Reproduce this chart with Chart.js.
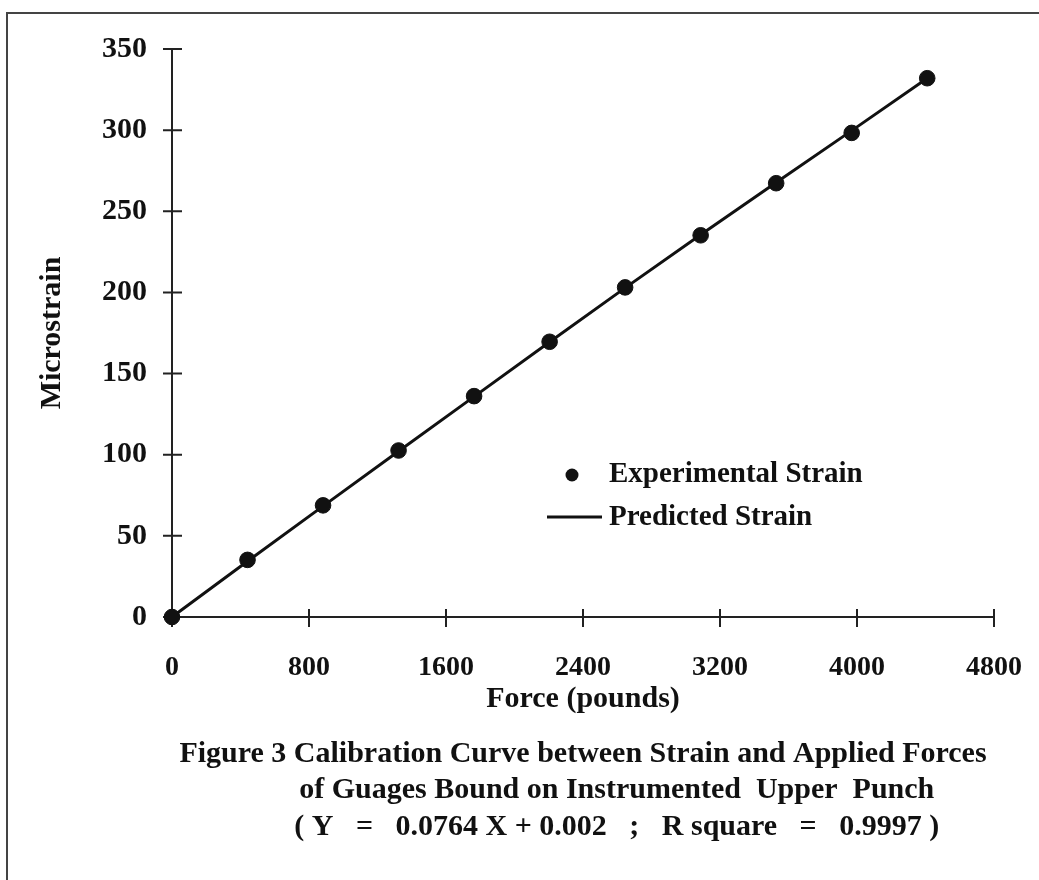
<!DOCTYPE html>
<html>
<head>
<meta charset="utf-8">
<script src="https://cdn.jsdelivr.net/npm/chart.js@4"></script>
<style>
  body { margin: 0; background: #fff; overflow: hidden; }
  #wrap { position: relative; width: 1039px; height: 880px; }
  #frame { position: absolute; left: 6px; top: 12px; width: 1100px; height: 1000px; border: 2px solid #444; }
  canvas { position: absolute; left: 0; top: 0; }
</style>
</head>
<body>
<div id="wrap">
  <div id="frame"></div>
  <canvas id="calib" width="1039" height="880"></canvas>
</div>
<script>
// force applied (pounds) and strain
const forceLb = [0, 441, 882, 1323, 1764, 2205, 2646, 3087, 3528, 3969, 4410];
const expStrain = [0, 35.2, 68.8, 102.6, 136.1, 169.6, 203.1, 235.2, 267.3, 298.3, 332];
const predStrain = [0, 34.4, 68.3, 102.1, 135.8, 169.4, 202.8, 235.5, 267.8, 299.7, 332];
const xTicks = [0, 800, 1600, 2400, 3200, 4000, 4800];
const yTicks = [0, 50, 100, 150, 200, 250, 300, 350];
const caption = [
  'Figure 3 Calibration Curve between Strain and Applied Forces',
  '\u00a0\u00a0\u00a0\u00a0\u00a0\u00a0\u00a0\u00a0\u00a0of Guages Bound on Instrumented  Upper  Punch',
  '\u00a0\u00a0\u00a0\u00a0\u00a0\u00a0\u00a0\u00a0\u00a0( Y   =   0.0764 X + 0.002   ;   R square   =   0.9997 )'
];

const ink = '#111';
const serif = '"Liberation Serif", "Times New Roman", serif';

// tick marks that cross the axis line
const crossTicks = {
  id: 'crossTicks',
  beforeDatasetsDraw(chart) {
    const {ctx, scales: {x, y}} = chart;
    ctx.save();
    ctx.strokeStyle = '#222';
    ctx.lineWidth = 2;
    ctx.beginPath();
    x.ticks.forEach(t => {
      const px = x.getPixelForValue(t.value);
      ctx.moveTo(px, y.bottom - 8);
      ctx.lineTo(px, y.bottom + 10);
    });
    y.ticks.forEach(t => {
      const py = y.getPixelForValue(t.value);
      ctx.moveTo(x.left - 9, py);
      ctx.lineTo(x.left + 10, py);
    });
    ctx.stroke();
    ctx.restore();
  }
};

// legend sitting inside the plot, lower right
const insideLegend = {
  id: 'insideLegend',
  afterDraw(chart) {
    const {ctx, chartArea} = chart;
    const left = chartArea.left + 437;
    let top = chartArea.top + 426;
    ctx.save();
    ctx.font = 'bold 29px ' + serif;
    ctx.textBaseline = 'middle';
    ctx.fillStyle = ink;
    ctx.strokeStyle = ink;
    chart.data.datasets.forEach(ds => {
      if (ds.showLine) {
        ctx.lineWidth = 3;
        ctx.beginPath();
        ctx.moveTo(left - 62, top - 1);
        ctx.lineTo(left - 7, top - 1);
        ctx.stroke();
      } else {
        ctx.beginPath();
        ctx.arc(left - 37, top, 6.5, 0, Math.PI * 2);
        ctx.fill();
      }
      ctx.fillText(ds.label, left, top);
      top += 43;
    });
    ctx.restore();
  }
};

const ctx = document.getElementById('calib');
const calib = new Chart(ctx, {
  type: 'scatter',
  data: {
    datasets: [{
      label: 'Experimental Strain',
      data: forceLb.map((f, i) => ({x: f, y: expStrain[i]})),
      showLine: false,
      pointRadius: 7.8,
      pointHoverRadius: 7.8,
      backgroundColor: ink,
      borderColor: ink,
      clip: false
    },
    {
      label: 'Predicted Strain',
      data: forceLb.map((f, i) => ({x: f, y: predStrain[i]})),
      showLine: true,
      pointRadius: 0,
      borderWidth: 3,
      borderColor: ink,
      backgroundColor: ink,
      clip: false
    }]
  },
  options: {
    responsive: false,
    animation: false,
    layout: {
      padding: {left: 0, right: 45, top: 49, bottom: 34.5}
    },
    scales: {
      x: {
        min: 0,
        max: 4800,
        afterBuildTicks: s => { s.ticks = xTicks.map(v => ({value: v})); },
        afterFit: s => { s.height = 100; s.paddingLeft = 0; s.paddingRight = 0; },
        grid: {display: false, drawTicks: false},
        border: {display: true, color: '#222', width: 2},
        ticks: {
          color: ink,
          padding: 34,
          maxRotation: 0,
          font: {family: serif, size: 28, weight: 'bold'},
          callback: v => String(v)
        },
        title: {
          display: true,
          text: 'Force (pounds)',
          color: ink,
          padding: {top: 0, bottom: 0},
          font: {family: serif, size: 30, weight: 'bold'}
        }
      },
      y: {
        min: 0,
        max: 350,
        afterBuildTicks: s => { s.ticks = yTicks.map(v => ({value: v})); },
        afterFit: s => { s.width = 172; s.paddingTop = 0; s.paddingBottom = 0; },
        grid: {display: false, drawTicks: false},
        border: {display: true, color: '#222', width: 2},
        ticks: {
          color: ink,
          padding: 25,
          font: {family: serif, size: 30, weight: 'bold'},
          callback: v => String(v)
        },
        title: {
          display: true,
          text: 'Microstrain',
          color: ink,
          padding: {top: 34, bottom: 0},
          font: {family: serif, size: 30, weight: 'bold'}
        }
      }
    },
    plugins: {
      legend: {display: false},
      tooltip: {enabled: false},
      title: {
        display: true,
        position: 'bottom',
        fullSize: false,
        text: caption,
        color: ink,
        padding: {top: 18.7, bottom: 0},
        font: {family: serif, size: 30, weight: 'bold', lineHeight: 1.22}
      }
    }
  },
  plugins: [crossTicks, insideLegend]
});
</script>
</body>
</html>
